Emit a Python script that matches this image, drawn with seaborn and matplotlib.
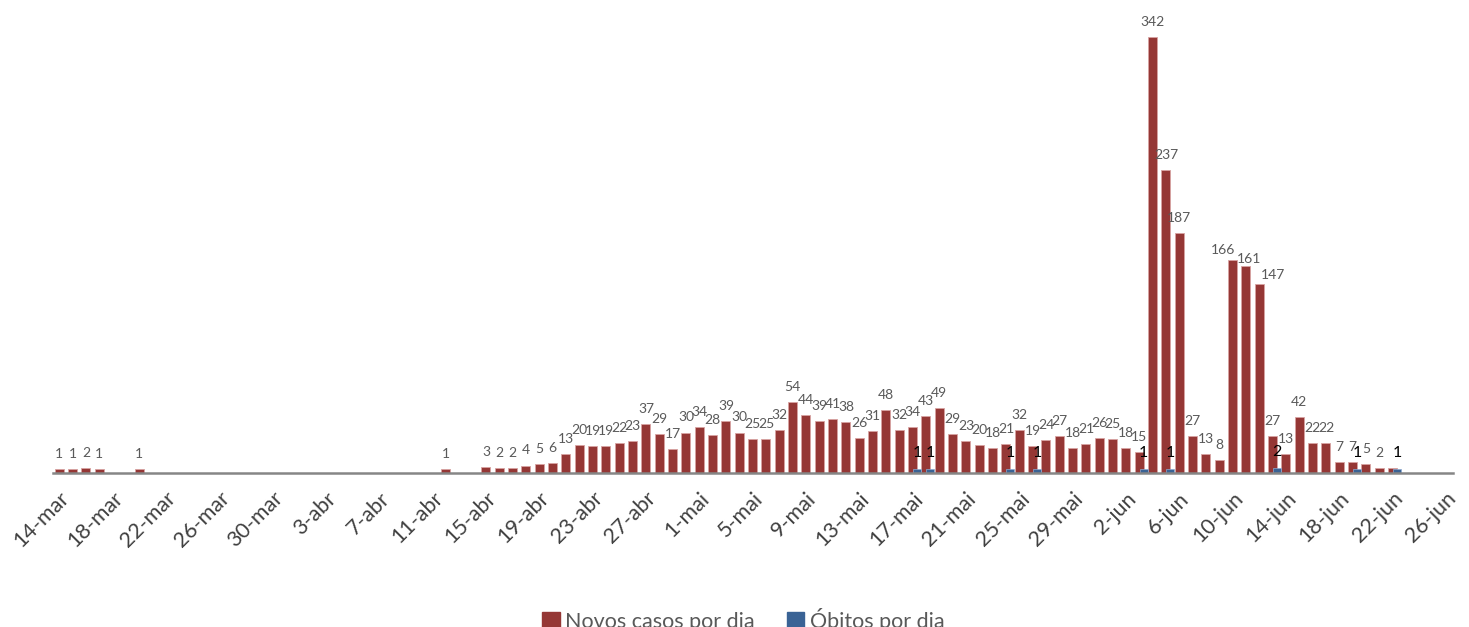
import pandas as pd
import numpy as np
import matplotlib.pyplot as plt
import seaborn as sns
from matplotlib.patches import Patch

# dias de 14-mar a 26-jun (eixo de datas)
inicio = "2020-03-14"
fim = "2020-06-26"
meses = {3: "mar", 4: "abr", 5: "mai", 6: "jun"}

# novos casos por dia (None = sem registo)
casos = ([1, 1, 2, 1, None, None, 1]
         + [None] * 22
         + [1, None, None]
         + [3, 2, 2, 4, 5, 6, 13, 20, 19, 19, 22, 23, 37, 29, 17, 30, 34, 28,
            39, 30, 25, 25, 32, 54, 44, 39, 41, 38, 26, 31, 48, 32, 34, 43, 49,
            29, 23, 20, 18, 21, 32, 19, 24, 27, 18, 21, 26, 25, 18, 15]
         + [342, 237, 187, 27, 13, 8, 166, 161, 147, 27, 13, 42, 22, 22, 7, 7,
            5, 2, 2]
         + [None] * 4)

obitos_datas = ["17-mai", "18-mai", "24-mai", "26-mai", "3-jun", "5-jun",
                "13-jun", "19-jun", "22-jun"]
obitos = [1, 1, 1, 1, 1, 1, 2, 1, 1]

# rotulos escondidos / deslocados no original (pontos)
sem_rotulo = ["22-jun"]
ajuste = {"10-jun": (-7.2, 3), "11-jun": (2.2, 1), "12-jun": (10, 2.3)}

vermelho = "#953735"
azul = "#3A6395"
base = -1.9  # a linha do eixo fica um pouco abaixo do zero

datas = pd.date_range(inicio, fim, freq="D")
rotulos = [f"{d.day}-{meses[d.month]}" for d in datas]
df = pd.DataFrame({"dia": np.arange(len(datas)), "rotulo": rotulos,
                   "casos": pd.array(casos, dtype="float")})
pos = {r: i for i, r in enumerate(rotulos)}
df_ob = pd.DataFrame({"dia": [pos[d] for d in obitos_datas], "obitos": obitos})

sns.set_style("white")
plt.rcParams["font.family"] = ["Lato", "DejaVu Sans"]

fig = plt.figure(figsize=(14.69, 6.27), dpi=100)
ax = fig.add_axes([52.6 / 1469, 1 - 473 / 627, 1400 / 1469, 473 / 627])

casos_ok = df.dropna(subset=["casos"])
sns.barplot(data=casos_ok, x="dia", y="casos", native_scale=True, width=0.68,
            color=vermelho, saturation=1, edgecolor="#d8a3a2", linewidth=0.6,
            errorbar=None, ax=ax)
sns.barplot(x=df_ob["dia"] + 0.33, y=df_ob["obitos"], native_scale=True,
            width=0.62, color=azul, saturation=1, edgecolor="#8eaad0",
            linewidth=0.5, errorbar=None, ax=ax)

# barras descem ate a linha do eixo
for p in ax.patches:
    p.set_height(p.get_height() - base)
    p.set_y(base)

for _, r in casos_ok.iterrows():
    if r["rotulo"] in sem_rotulo:
        continue
    dx, dy = ajuste.get(r["rotulo"], (0, 6.5))
    ax.annotate(f"{int(r['casos'])}", (r["dia"], r["casos"]), xytext=(dx, dy),
                textcoords="offset points", ha="center", va="bottom",
                fontsize=10, color="#595959")
for _, r in df_ob.iterrows():
    ax.annotate(f"{int(r['obitos'])}", (r["dia"] + 0.33, r["obitos"]),
                xytext=(0, 6.5), textcoords="offset points", ha="center",
                va="bottom", fontsize=11.5, color="black")

ax.set_xlim(-0.5, len(datas) - 0.5)
ax.set_ylim(base, 370.9)
ticks = df["dia"][::4]
ax.set_xticks(ticks)
ax.set_xticklabels(df["rotulo"][::4], rotation=45, ha="right",
                   rotation_mode="anchor", fontsize=15.5, color="#404040")
ax.tick_params(axis="x", length=0, pad=11)
ax.set_yticks([])
ax.set_xlabel("")
ax.set_ylabel("")
for s in ["top", "right", "left"]:
    ax.spines[s].set_visible(False)
ax.spines["bottom"].set_color("#868686")
ax.spines["bottom"].set_linewidth(1.8)
ax.spines["bottom"].set_zorder(3)

handles = [Patch(color=vermelho, label="Novos casos por dia"),
           Patch(color=azul, label="Óbitos por dia")]
fig.legend(handles=handles, loc="center", bbox_to_anchor=(0.506, 0.011),
           ncol=2, frameon=False, fontsize=15.5, labelcolor="#595959",
           handlelength=0.8, handleheight=0.8, handletextpad=0.25,
           columnspacing=1.5)

fig.savefig("out.png", dpi=100)
